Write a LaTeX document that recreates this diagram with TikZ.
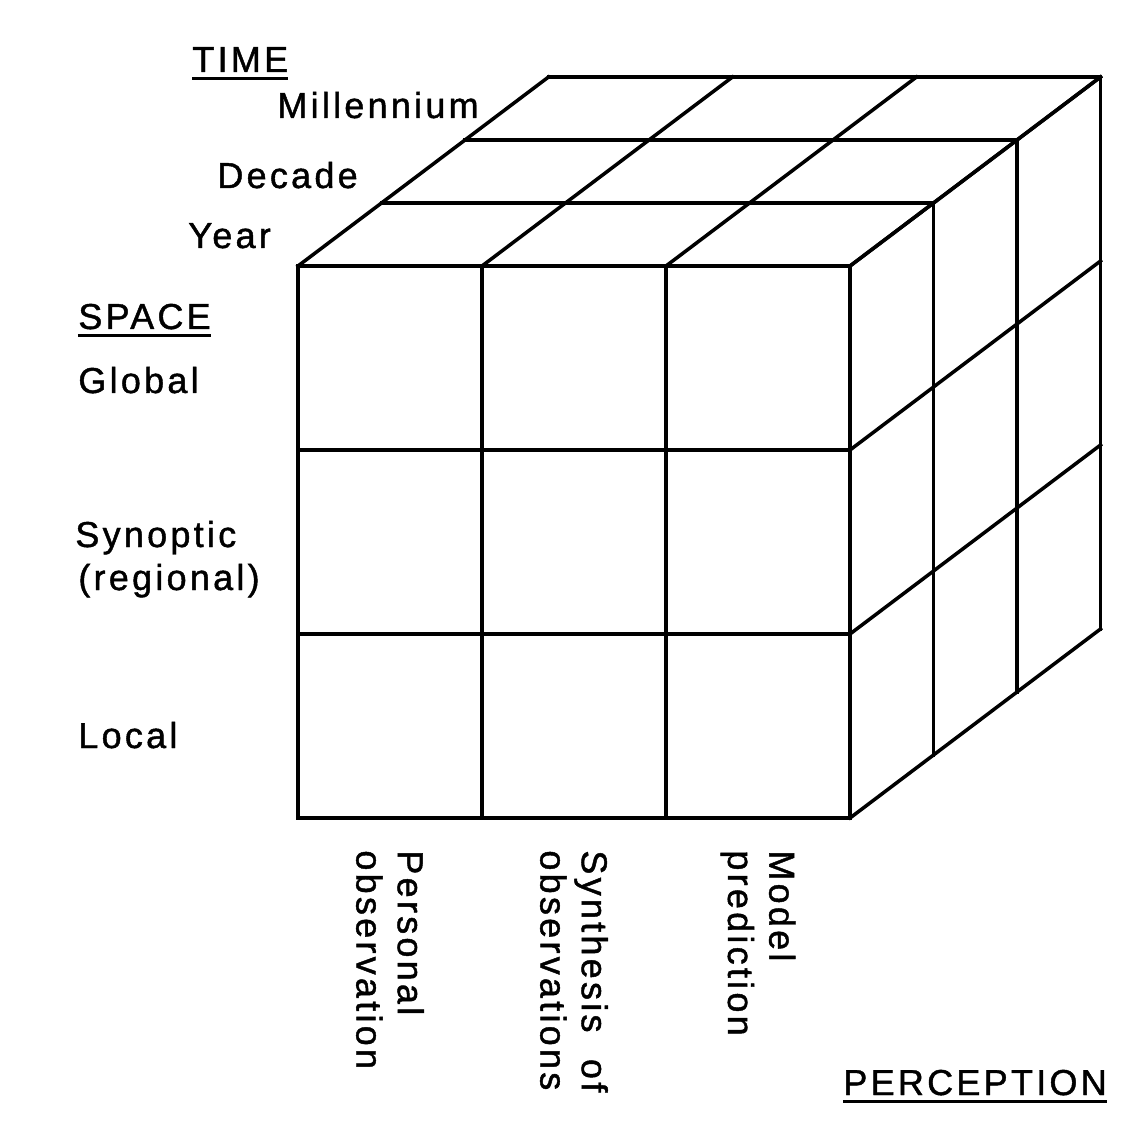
\documentclass[tikz,border=0pt]{standalone}
\usepackage{fontspec}
\setmainfont{Liberation Sans}[LetterSpace=9, FakeBold=1.2]
\usetikzlibrary{positioning}

\begin{document}
\begin{tikzpicture}[x=3.68cm, y=3.68cm, z={(1.67cm,1.26cm)},
    edge/.style={line width=2pt, line cap=rect, line join=miter},
    uline/.style={line width=1.6pt},
    lbl/.style={font=\fontsize{20.5}{26}\selectfont, inner sep=0pt, anchor=base west},
    vlbl/.style={font=\fontsize{20.5}{23.5}\selectfont, inner sep=0pt,
                 align=left, rotate=-90, anchor=west}]

    \useasboundingbox (-5.96cm,-6.32cm) rectangle (16.88cm,16.36cm);

    % front face
    \foreach \i in {0,...,3} {
      \draw[edge] (\i,0,0) -- (\i,3,0);
      \draw[edge] (0,\i,0) -- (3,\i,0);
    }
    % top face
    \foreach \i in {0,...,3} {
      \draw[edge] (\i,3,0) -- (\i,3,3);
      \draw[edge] (0,3,\i) -- (3,3,\i);
    }
    % right face
    \foreach \i in {0,...,3} {
      \draw[edge] (3,\i,0) -- (3,\i,3);
      \draw[edge] (3,0,\i) -- (3,3,\i);
    }

    % time axis
    \node[lbl] (time) at (-2.12cm,14.92cm) {TIME};
    \draw[uline] ([yshift=-3.6pt]time.base west) -- ([yshift=-3.6pt]time.base east);
    \node[lbl] (mill) at (-0.42cm,14.0cm) {Millennium};
    \node[lbl] (dec)  at (-1.62cm,12.6cm) {Decade};
    \node[lbl] (yr)   at (-2.2cm,11.4cm)  {Year};

    % space axis
    \node[lbl] (space) at (-4.4cm,9.78cm) {SPACE};
    \draw[uline] ([yshift=-3.6pt]space.base west) -- ([yshift=-3.6pt]space.base east);
    \node[lbl] (glob) at (-4.4cm,8.5cm)  {Global};
    \node[lbl] (syn)  at (-4.46cm,5.42cm) {Synoptic};
    \node[lbl] (reg)  at (-4.4cm,4.56cm) {(regional)};
    \node[lbl] (loc)  at (-4.4cm,1.4cm)  {Local};

    % perception axis
    \coordinate (c1) at (0.5,0,0);
    \coordinate (c2) at (1.5,0,0);
    \coordinate (c3) at (2.5,0,0);
    \node[vlbl] (pers) at ([yshift=-0.64cm]c1) {Personal\\observation};
    \node[vlbl] (synth) at ([yshift=-0.64cm]c2) {Synthesis\ \ of\\observations};
    \node[vlbl] (model) at ([yshift=-0.64cm]c3) {Model\\prediction};

    \node[lbl] (perc) at (10.9cm,-5.54cm) {PERCEPTION};
    \draw[uline] ([yshift=-3.6pt]perc.base west) -- ([yshift=-3.6pt]perc.base east);
  \end{tikzpicture}
\end{document}
